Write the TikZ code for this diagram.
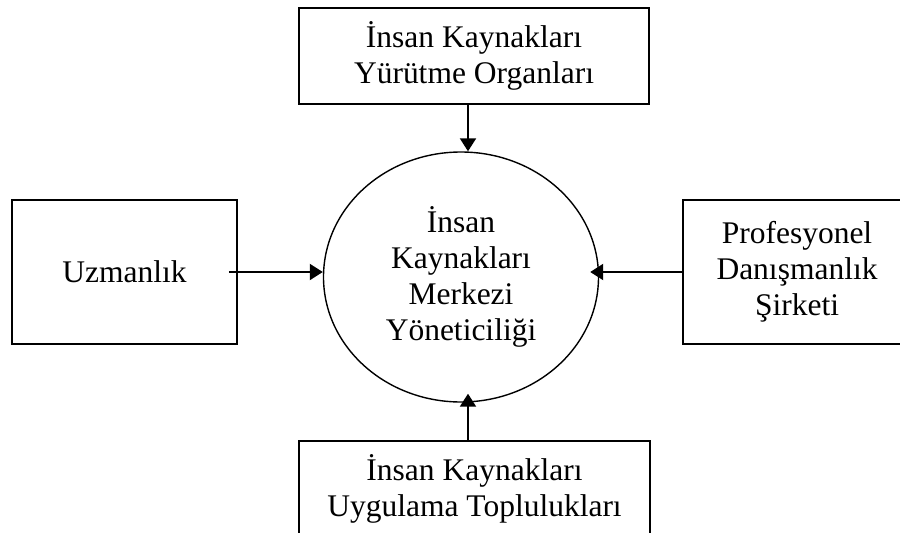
\documentclass[tikz,border=0pt]{standalone}
\usepackage{fontspec}
\setmainfont{Liberation Serif}
\usetikzlibrary{shapes.geometric,arrows.meta}

\tikzset{
  x=1pt, y=-1pt,
  label text/.style={align=center, font=\fontsize{31.5}{36}\selectfont, inner sep=0pt},
  unitbox/.style={label text, draw=black, line width=1.6pt, rectangle},
  hubshape/.style={label text, draw=black, line width=1.4pt, ellipse,
    minimum width=275pt, minimum height=250pt},
  flow/.style={line width=2pt, -{Triangle[width=16pt,length=13pt]}},
}

\begin{document}
\begin{tikzpicture}
  \useasboundingbox (0,0) rectangle (900,533);
  \clip (0,0) rectangle (900,533);

  % central management node
  \node[hubshape] (hub) at (461,277)
    {İnsan\\Kaynakları\\Merkezi\\Yöneticiliği};

  % surrounding units
  \node[unitbox, minimum width=350pt, minimum height=96pt] (exec) at (474,56)
    {İnsan Kaynakları\\Yürütme Organları};
  \node[unitbox, minimum width=225pt, minimum height=144pt] (expert) at (124.5,272)
    {Uzmanlık};
  \node[unitbox, minimum width=228pt, minimum height=144pt] (consult) at (797,272)
    {Profesyonel\\Danışmanlık\\Şirketi};
  \node[unitbox, minimum width=351pt, minimum height=96pt] (practice) at (474.5,489)
    {İnsan Kaynakları\\Uygulama Toplulukları};

  % inputs to the centre
  \draw[flow] (exec.south -| 468,0) -- (hub.north -| 468,0);
  \draw[flow] ([xshift=-9pt]expert.east |- 0,272) -- (hub.west |- 0,272);
  \draw[flow, shorten >=-9pt] (consult.west |- 0,272) -- (hub.east |- 0,272);
  \draw[flow, shorten >=-9pt] (practice.north -| 468,0) -- (hub.south -| 468,0);
\end{tikzpicture}
\end{document}
